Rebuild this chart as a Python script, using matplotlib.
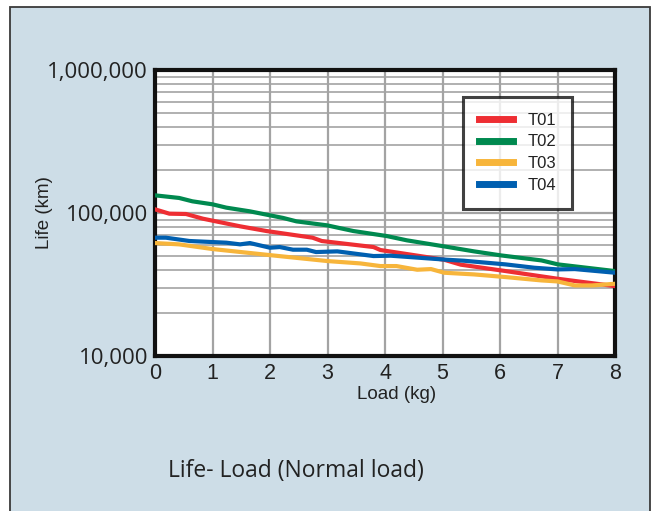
import matplotlib
matplotlib.use("Agg")
import matplotlib.pyplot as plt
from matplotlib.patches import Rectangle
from matplotlib.ticker import FixedLocator, LogLocator, NullFormatter
from matplotlib import font_manager

# load in kg, life in km
t01_load = [0, 0.25, 0.54, 0.83, 1.48, 1.94, 2.74, 2.9, 3.8, 3.92, 5.03, 5.32, 6.1, 7.0, 8.0]
t01_life = [106100, 98900, 98400, 91300, 80700, 74800, 67200, 63700, 57800, 55100, 47100, 43500, 39250, 34700, 30800]

t02_load = [0, 0.42, 0.65, 1.0, 1.24, 1.65, 2.0, 2.23, 2.46, 2.99, 3.45, 4.03, 4.38, 5.03, 5.55, 6.02, 6.72, 7.01, 8.0]
t02_life = [132900, 127400, 120700, 115000, 109000, 102700, 96300, 92300, 87400, 82000, 74800, 69000, 64400, 58400, 53900, 50500, 46600, 43700, 39250]

t03_load = [0, 0.42, 1.0, 2.05, 3.0, 3.57, 3.92, 4.2, 4.56, 4.8, 5.03, 5.55, 6.1, 6.72, 7.0, 7.3, 7.6, 8.0]
t03_life = [61650, 60350, 55970, 50500, 46120, 44410, 42550, 42550, 40110, 40540, 38220, 37200, 35630, 33770, 33230, 31150, 31150, 32000]

t04_load = [0, 0.19, 0.6, 1.24, 1.48, 1.65, 2.0, 2.17, 2.4, 2.64, 2.8, 3.17, 3.8, 4.1, 5.08, 5.37, 6.1, 6.6, 7.0, 7.3, 8.0]
t04_life = [67200, 67200, 63700, 62000, 60350, 61650, 57170, 57800, 55380, 55380, 53330, 53910, 50000, 50270, 47100, 46380, 43700, 41410, 40320, 40540, 38220]

series = [
    ("T01", t01_load, t01_life, "#ee2e33"),
    ("T02", t02_load, t02_life, "#00894f"),
    ("T03", t03_load, t03_life, "#f7b53b"),
    ("T04", t04_load, t04_life, "#005fb0"),
]

y_ticks = [10000, 100000, 1000000]
y_labels = ["10,000", "100,000", "1,000,000"]

# condensed face for the axis labels if it is there
names = {f.name for f in font_manager.fontManager.ttflist}
narrow = "Liberation Sans Narrow" if "Liberation Sans Narrow" in names else "Liberation Sans"

plt.rcParams["font.family"] = ["Open Sans", "DejaVu Sans"]
text_col = "#222222"

fig = plt.figure(figsize=(6.59, 5.11), dpi=100)
fig.patch.set_facecolor("white")

# light blue panel behind everything
panel = Rectangle((10 / 659, -0.05), 640 / 659, 1 - 7 / 511 + 0.05,
                  transform=fig.transFigure, facecolor="#cddde7",
                  edgecolor="#3a3a3a", linewidth=1.3, zorder=-10)
fig.patches.append(panel)

ax = fig.add_axes([155 / 659, 1 - 356 / 511, 460 / 659, 286 / 511])
ax.set_facecolor("white")

for name, xs, ys, col in series:
    ax.plot(xs, ys, color=col, linewidth=3, label=name, zorder=3,
            solid_joinstyle="round")

ax.set_yscale("log")
ax.set_ylim(10000, 1000000)
ax.set_xlim(0, 8)
ax.xaxis.set_major_locator(FixedLocator(range(0, 9)))
ax.yaxis.set_major_locator(FixedLocator(y_ticks))
ax.set_yticklabels(y_labels)
ax.yaxis.set_minor_locator(LogLocator(base=10, subs=range(2, 10)))
ax.yaxis.set_minor_formatter(NullFormatter())

ax.grid(True, which="major", color="#a3a3a3", linewidth=1.6, zorder=1)
ax.grid(True, which="minor", axis="y", color="#a3a3a3", linewidth=1.2, zorder=1)
ax.set_axisbelow(True)

ax.tick_params(which="both", length=0)
ax.tick_params(axis="y", labelsize=16, pad=5, colors=text_col)
ax.tick_params(axis="x", labelsize=15.5, pad=5, colors=text_col)
for lab in ax.get_xticklabels():
    lab.set_family(narrow)
for sp in ax.spines.values():
    sp.set_linewidth(3)
    sp.set_color("#111111")

ax.set_xlabel("Load (kg)", fontsize=13.5, color=text_col, family=narrow)
ax.xaxis.set_label_coords(0.526, -0.105)
ax.set_ylabel("Life (km)", fontsize=13.5, color=text_col, family=narrow)
ax.yaxis.set_label_coords(-0.222, 0.5)

leg = ax.legend(loc="upper right", bbox_to_anchor=(0.907, 0.906),
                frameon=True, fancybox=False,
                handlelength=2.0, handletextpad=0.9, borderpad=0.95,
                labelspacing=0.4, borderaxespad=0,
                prop={"family": "Liberation Sans", "size": 12})
leg.get_frame().set_edgecolor("#111111")
leg.get_frame().set_linewidth(2.2)
for t in leg.get_texts():
    t.set_color(text_col)
for h in leg.get_lines():
    h.set_linewidth(5)

fig.text(168 / 659, 1 - 471 / 511, "Life- Load (Normal load)", fontsize=16.5,
         va="center", ha="left", color=text_col)

fig.savefig("out.png", dpi=100)
